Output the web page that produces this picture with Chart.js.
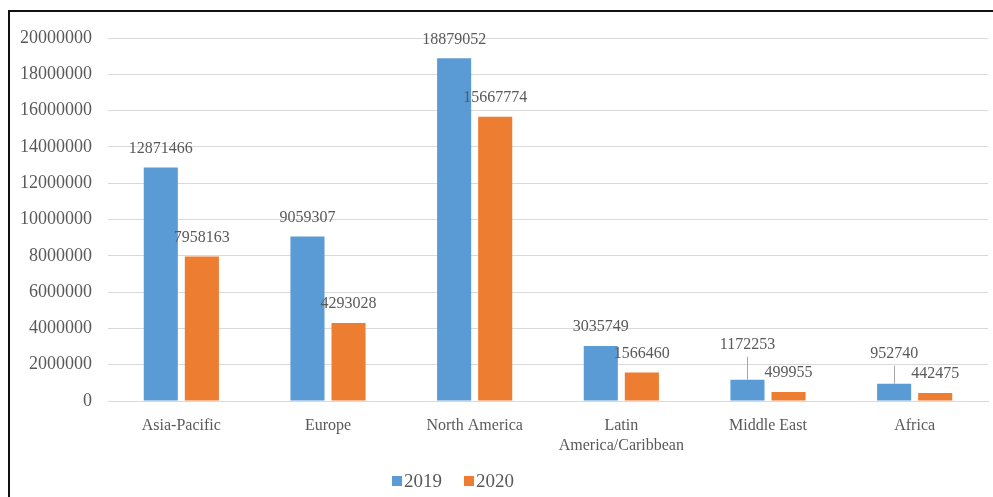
<!DOCTYPE html>
<html>
<head>
<meta charset="utf-8">
<script src="https://cdn.jsdelivr.net/npm/chart.js@4.4.0/dist/chart.umd.min.js"></script>
<style>
  html, body { margin: 0; padding: 0; background: #fff; }
  #wrap { position: relative; width: 993px; height: 497px; overflow: hidden; }
  #frame { position: absolute; left: 8px; top: 10px; width: 1000px; height: 500px; border: 2px solid #111; box-sizing: border-box; }
  canvas { position: absolute; left: 0; top: 0; }
</style>
</head>
<body>
<div id="wrap">
  <div id="frame"></div>
  <canvas id="myChart" width="993" height="497"></canvas>
</div>
<script>
// regions and the two years
var regions = ['Asia-Pacific', 'Europe', 'North America', ['Latin', 'America/Caribbean'], 'Middle East', 'Africa'];
var values2019 = [12871466, 9059307, 18879052, 3035749, 1172253, 952740];
var values2020 = [7958163, 4293028, 15667774, 1566460, 499955, 442475];
var yTicks = [0, 2000000, 4000000, 6000000, 8000000, 10000000, 12000000, 14000000, 16000000, 18000000, 20000000];

var textColor = '#595959';

// numbers above the bars, a few lifted with a thin leader line like in excel
var barLabels = {
    id: 'barLabels',
    afterDatasetsDraw: function (chart, args, opts) {
        var ctx = chart.ctx;
        ctx.save();
        ctx.font = '16px "Liberation Serif"';
        ctx.fillStyle = textColor;
        ctx.textAlign = 'center';
        ctx.textBaseline = 'middle';
        chart.data.datasets.forEach(function (ds, di) {
            var meta = chart.getDatasetMeta(di);
            meta.data.forEach(function (bar, i) {
                var lift = (opts.lift[di] && opts.lift[di][i]) || 0;
                var y = bar.y - 19 - lift;
                if (lift) {
                    ctx.strokeStyle = '#a6a6a6';
                    ctx.lineWidth = 1;
                    ctx.beginPath();
                    ctx.moveTo(Math.round(bar.x) + 0.5, y + 12);
                    ctx.lineTo(Math.round(bar.x) + 0.5, bar.y);
                    ctx.stroke();
                }
                ctx.fillText(ds.data[i], bar.x, y);
            });
        });
        ctx.restore();
    }
};

// small legend under the axis, sitting a bit left of centre
var bottomLegend = {
    id: 'bottomLegend',
    afterDraw: function (chart, args, opts) {
        var ctx = chart.ctx;
        ctx.save();
        ctx.font = '19px "Liberation Serif"';
        ctx.textBaseline = 'middle';
        ctx.textAlign = 'left';
        var x = opts.x;
        chart.data.datasets.forEach(function (ds) {
            ctx.fillStyle = ds.backgroundColor;
            ctx.fillRect(x, opts.y - 5, 10, 10);
            x += 12;
            ctx.fillStyle = textColor;
            ctx.fillText(ds.label, x, opts.y + 1);
            x += ctx.measureText(ds.label).width + 22;
        });
        ctx.restore();
    }
};

var ctx = document.getElementById('myChart').getContext('2d');

var chart = new Chart(ctx, {
    type: 'bar',
    data: {
        labels: regions,
        datasets: [{
            label: '2019',
            backgroundColor: '#5b9bd5',
            data: values2019
        }, {
            label: '2020',
            backgroundColor: '#ed7d31',
            data: values2020
        }]
    },
    plugins: [barLabels, bottomLegend],
    options: {
        responsive: false,
        animation: false,
        devicePixelRatio: 1,
        categoryPercentage: 0.56,
        barPercentage: 0.83,
        layout: { padding: { top: 38, right: 5, left: 0, bottom: 31 } },
        plugins: {
            tooltip: { enabled: false },
            legend: { display: false },
            barLabels: { lift: { 0: { 4: 16, 5: 11 } } },
            bottomLegend: { x: 392, y: 481 }
        },
        scales: {
            x: {
                grid: { display: false },
                border: { color: '#d9d9d9' },
                ticks: {
                    color: textColor,
                    font: { family: '"Liberation Serif"', size: 16, lineHeight: 1.3 },
                    padding: 6,
                    maxRotation: 0,
                    autoSkip: false
                },
                afterFit: function (scale) { scale.height = 65; }
            },
            y: {
                min: 0,
                max: 20000000,
                afterBuildTicks: function (scale) {
                    scale.ticks = yTicks.map(function (v) { return { value: v }; });
                },
                grid: { color: '#d9d9d9', drawTicks: false },
                border: { display: false },
                ticks: {
                    color: textColor,
                    font: { family: '"Liberation Serif"', size: 18 },
                    padding: 16,
                    callback: function (v) { return String(v); }
                },
                afterFit: function (scale) { scale.width = 108; }
            }
        }
    }
});
</script>
</body>
</html>
